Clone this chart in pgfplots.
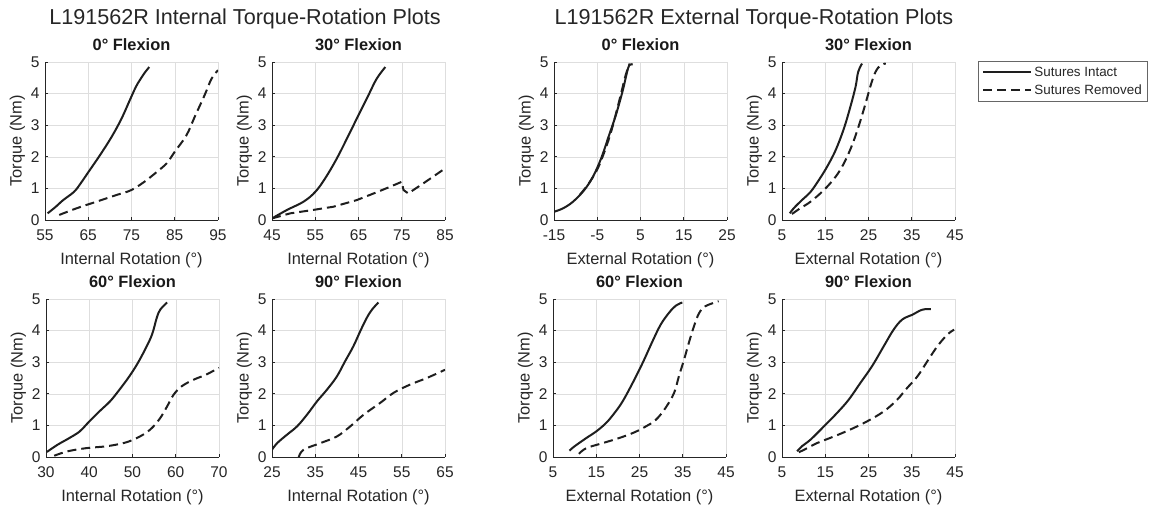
\documentclass[border=0pt]{standalone}
\usepackage{fontspec}
\setmainfont{Liberation Sans}
\usepackage{pgfplots}
\pgfplotsset{compat=1.18}
\definecolor{txt}{RGB}{38,38,38}
\definecolor{crv}{RGB}{30,30,30}
\pgfplotsset{
  panel/.style={
    scale only axis, width=173pt, height=158pt,
    ymin=0, ymax=5, ytick={0,1,2,3,4,5},
    axis lines=left, axis line style={-, color=txt, line width=0.7pt},
    grid=major, grid style={color=black!13, line width=0.5pt},
    tick align=inside, major tick length=3pt,
    tick style={color=txt, line width=0.6pt},
    /pgf/number format/assume math mode=true,
    ticklabel style={font=\fontsize{15.5}{15.5}\selectfont, text=txt},
    xticklabel style={yshift=-6pt},
    yticklabel style={xshift=-2pt},
    title style={font=\bfseries\fontsize{16.4}{16.4}\selectfont, text=black!90, at={(axis description cs:0.5,1.07)}, anchor=center},
    xlabel style={font=\fontsize{16.4}{16.4}\selectfont, text=txt, at={(axis description cs:0.5,-0.255)}, anchor=center},
    ylabel style={font=\fontsize{16.4}{16.4}\selectfont, text=txt, at={(axis description cs:-0.16,0.5)}, anchor=center},
    ylabel={Torque (Nm)},
    every axis plot/.append style={line width=2pt, color=crv, smooth, tension=0.6},
  },
  intact/.style={solid},
  removed/.style={dash pattern=on 9pt off 5pt},
}
\begin{document}
\begin{tikzpicture}
\useasboundingbox (0,0) rectangle (1155pt,508pt);
\node[font=\fontsize{21.6}{21.6}\selectfont, text=txt] at (245pt,489pt) {L191562R Internal Torque-Rotation Plots};
\node[font=\fontsize{21.6}{21.6}\selectfont, text=txt] at (754pt,489pt) {L191562R External Torque-Rotation Plots};

% Panel 1: Internal 0
\begin{axis}[panel, at={(45pt,288pt)}, anchor=south west,
  xmin=55, xmax=95, xtick={55,65,75,85,95},
  title={0° Flexion}, xlabel={Internal Rotation (°)}]
\addplot[intact] coordinates {(55.6,0.21)(57.5,0.42)(59.2,0.63)(61.7,0.89)(63.2,1.15)(64.8,1.47)(67.7,2.05)(70.4,2.63)(72.7,3.21)(74.6,3.79)(76.0,4.21)(76.9,4.42)(78.0,4.65)(79.1,4.84)};
\addplot[removed] coordinates {(58.3,0.16)(62.3,0.37)(66.9,0.58)(71.5,0.79)(75,0.95)(78.5,1.26)(80.4,1.47)(83.1,1.79)(85,2.16)(87.7,2.68)(89.6,3.26)(91.9,3.95)(93.5,4.47)(95,4.74)};
\end{axis}

% Panel 2: Internal 30
\begin{axis}[panel, at={(272pt,288pt)}, anchor=south west,
  xmin=45, xmax=85, xtick={45,55,65,75,85},
  title={30° Flexion}, xlabel={Internal Rotation (°)}]
\addplot[intact] coordinates {(45,0.05)(48.5,0.32)(52.3,0.58)(55,0.89)(57.3,1.32)(60,1.95)(62.7,2.68)(65,3.32)(67.3,3.95)(69.2,4.47)(71.2,4.84)};
\addplot[removed, sharp plot] coordinates {(45,0.05)(49.2,0.21)(54.6,0.32)(59.2,0.42)(64.6,0.63)(68.5,0.84)(72.3,1.05)(75,1.21)(75.4,0.95)(76.5,0.84)(80,1.16)(85,1.63)};
\end{axis}

% Panel 3: External 0
\begin{axis}[panel, at={(554pt,288pt)}, anchor=south west,
  xmin=-15, xmax=25, xtick={-15,-5,5,15,25},
  title={0° Flexion}, xlabel={External Rotation (°)}]
\addplot[intact] coordinates {(-15,0.26)(-12.9,0.37)(-10.6,0.58)(-8,0.95)(-6,1.37)(-4.1,1.95)(-2.4,2.63)(-0.7,3.32)(0.9,4.1)(1.8,4.63)(2.4,4.9)(3.2,4.92)};
\addplot[removed] coordinates {(-9,0.8)(-7,1.15)(-5,1.6)(-3.5,2.1)(-2,2.7)(-0.8,3.3)(0.5,4.0)(1.6,4.6)(2.5,4.95)};
\end{axis}

% Panel 4: External 30
\begin{axis}[panel, at={(782pt,288pt)}, anchor=south west,
  xmin=5, xmax=45, xtick={5,15,25,35,45},
  title={30° Flexion}, xlabel={External Rotation (°)},
  legend style={at={(1.134,1.006)}, anchor=north west, draw=black!60, line width=0.6pt,
    font=\fontsize{13.4}{15}\selectfont, text=txt, cells={anchor=west},
    inner xsep=4pt, inner ysep=3.5pt, row sep=3pt},
  legend image code/.code={\draw[#1] (0pt,0pt) -- (48pt,0pt);}]
\addplot[intact] coordinates {(6.8,0.21)(7.7,0.37)(9.6,0.63)(11.6,0.89)(13.5,1.26)(15.4,1.68)(17.4,2.21)(19.3,2.89)(20.8,3.58)(22.0,4.21)(22.6,4.68)(23.5,4.95)};
\addlegendentry{Sutures Intact}
\addplot[removed] coordinates {(7.3,0.19)(9.2,0.37)(11.6,0.58)(14.7,0.95)(17.4,1.37)(19.3,1.79)(21.2,2.37)(22.8,3.0)(24.3,3.68)(25.5,4.26)(26.6,4.68)(27.8,4.9)(29,4.95)};
\addlegendentry{Sutures Removed}
\end{axis}

% Panel 5: Internal 60
\begin{axis}[panel, at={(46pt,51pt)}, anchor=south west,
  xmin=30, xmax=70, xtick={30,40,50,60,70},
  title={60° Flexion}, xlabel={Internal Rotation (°)}]
\addplot[intact] coordinates {(30.2,0.16)(32.7,0.39)(35.4,0.6)(37.8,0.81)(39.7,1.08)(42.4,1.45)(44.8,1.76)(46.7,2.08)(49,2.5)(51,2.92)(52.9,3.4)(54.5,3.87)(55.6,4.4)(56.4,4.66)(58,4.89)};
\addplot[removed] coordinates {(31.9,0.04)(35,0.18)(39.3,0.28)(44,0.34)(47.9,0.44)(50.2,0.55)(52.5,0.71)(54.5,0.92)(56.4,1.23)(58,1.6)(59.5,1.97)(61.4,2.24)(64.2,2.45)(66.9,2.6)(70,2.82)};
\end{axis}

% Panel 6: Internal 90
\begin{axis}[panel, at={(272pt,51pt)}, anchor=south west,
  xmin=25, xmax=65, xtick={25,35,45,55,65},
  title={90° Flexion}, xlabel={Internal Rotation (°)}]
\addplot[intact] coordinates {(25.0,0.23)(26.2,0.44)(28.5,0.71)(30.8,0.97)(33.1,1.34)(35.4,1.76)(37.7,2.13)(40,2.55)(41.9,3.03)(43.8,3.5)(45.4,3.98)(46.9,4.4)(48.1,4.66)(49.6,4.89)};
\addplot[removed] coordinates {(31.2,0.0)(32.3,0.23)(36.2,0.44)(40,0.65)(43.1,0.97)(46.2,1.34)(50,1.71)(53.1,2.03)(56.9,2.29)(60.8,2.5)(65,2.76)};
\end{axis}

% Panel 7: External 60
\begin{axis}[panel, at={(553pt,51pt)}, anchor=south west,
  xmin=5, xmax=45, xtick={5,15,25,35,45},
  title={60° Flexion}, xlabel={External Rotation (°)}]
\addplot[intact] coordinates {(8.8,0.2)(10,0.34)(12.7,0.6)(15,0.81)(17.3,1.08)(19.2,1.39)(21.1,1.76)(23.4,2.34)(25.7,2.97)(28,3.66)(29.9,4.19)(31.8,4.56)(33.4,4.79)(34.9,4.89)};
\addplot[removed] coordinates {(11,0.1)(12.7,0.28)(16.5,0.44)(20.3,0.6)(23.8,0.78)(26.5,0.97)(28.8,1.18)(31,1.55)(33,2.03)(34.1,2.55)(35.3,3.08)(36.4,3.61)(37.6,4.14)(38.8,4.56)(40.2,4.77)(43.3,4.93)};
\end{axis}

% Panel 8: External 90
\begin{axis}[panel, at={(782pt,51pt)}, anchor=south west,
  xmin=5, xmax=45, xtick={5,15,25,35,45},
  title={90° Flexion}, xlabel={External Rotation (°)}]
\addplot[intact] coordinates {(8.5,0.18)(9.6,0.34)(11.6,0.55)(14.7,0.97)(17.7,1.39)(20.4,1.81)(23.1,2.34)(25.8,2.87)(28.5,3.5)(30.8,4.03)(32.8,4.35)(35.1,4.5)(37.4,4.66)(39.4,4.68)};
\addplot[removed] coordinates {(8.9,0.15)(10.4,0.25)(13.1,0.44)(17,0.65)(20.8,0.87)(24.7,1.13)(28.6,1.45)(31.6,1.81)(33.9,2.18)(36.3,2.55)(38.6,3.03)(40.9,3.5)(43.2,3.87)(44.8,4.03)};
\end{axis}
\end{tikzpicture}
\end{document}
